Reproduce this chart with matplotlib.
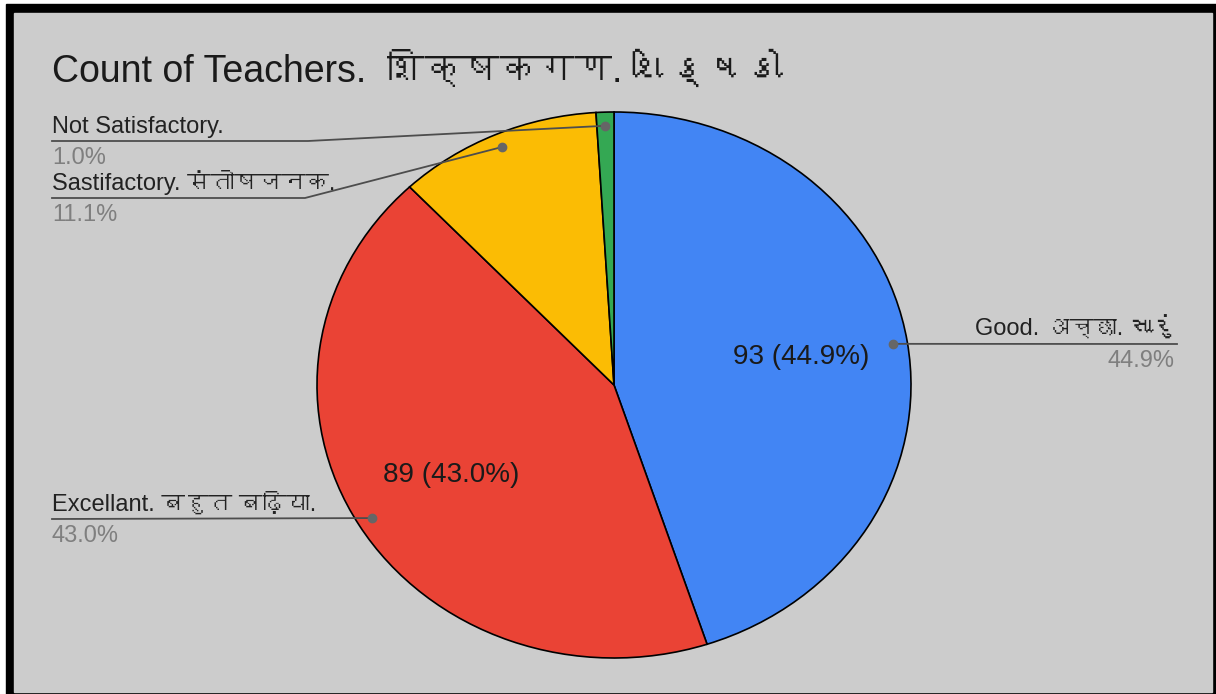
import numpy as np
import matplotlib.pyplot as plt
from matplotlib import font_manager
from matplotlib.ft2font import FT2Font

# Данные
title = 'Count of Teachers.  शिक्षकगण. શિક્ષકો'
categories = ['Good. अच्छा. સારું', 'Excellant. बहुत बढ़िया.',
              'Sastifactory. संतोषजनक.', 'Not Satisfactory.']
counts = [93, 89, 23, 2]
colors = ['#4285f4', '#ea4335', '#fbbc04', '#34a853']

# Шрифты: ищем что-нибудь с деванагари / гуджарати, если есть
families = ['Liberation Sans', 'DejaVu Sans']
for code in (0x0936, 0x0AB6):
    for f in font_manager.fontManager.ttflist:
        try:
            if code in FT2Font(f.fname).get_charmap():
                if f.name not in families:
                    families.append(f.name)
                break
        except Exception:
            pass
plt.rcParams['font.family'] = families

W, H = 1216, 694
fig = plt.figure(figsize=(W / 100, H / 100), dpi=100, facecolor='white')
ax = fig.add_axes([0, 0, 1, 1])
ax.set_xlim(0, W)
ax.set_ylim(H, 0)
ax.axis('off')

# рамка скриншота и серый фон
ax.add_patch(plt.Rectangle((6, 4), W - 6, H - 4, color='black'))
ax.add_patch(plt.Rectangle((14, 13), 1198, 679, color='#cccccc'))

ax.text(52, 82, title, fontsize=27, color='#1a1a1a', va='baseline')

# Круговая диаграмма (слегка растянута по горизонтали, как в оригинале)
cx, cy, rx, ry = 614, 385, 297, 273
pax = fig.add_axes([(cx - rx) / W, (H - cy - ry) / H, 2 * rx / W, 2 * ry / H])
wedges, _ = pax.pie(counts, colors=colors, startangle=90, counterclock=False,
                    wedgeprops=dict(edgecolor='black', linewidth=1.2))
for w in wedges:
    w.set_clip_on(False)
pax.set_xlim(-1, 1)
pax.set_ylim(-1, 1)
pax.set_aspect('auto')
pax.axis('off')

# верхний слой для выносок, поверх круга
ox = fig.add_axes([0, 0, 1, 1])
ox.set_xlim(0, W)
ox.set_ylim(H, 0)
ox.axis('off')

total = sum(counts)


def to_px(x, y):
    return ox.transData.inverted().transform(pax.transData.transform((x, y)))


# подписи: (x якоря, y подчёркивания, выравнивание, x излома)
layout = [(1177, 344, 'right', 1177),
          (52, 519, 'left', 52),
          (52, 198, 'left', 305),
          (52, 141, 'left', 308)]

for w, n, name, (tx, uy, ha, bx) in zip(wedges, counts, categories, layout):
    mid = np.deg2rad((w.theta1 + w.theta2) / 2)
    share = n / total
    if share > 0.2:
        pax.text(0.64 * np.cos(mid), 0.64 * np.sin(mid), f'{n} ({share:.1%})',
                 fontsize=20, color='#1a1a1a', ha='center', va='center')
    dx, dy = to_px(0.95 * np.cos(mid), 0.95 * np.sin(mid))
    ox.plot([tx, bx, dx], [uy, uy, dy], color='#4d4d4d', lw=1.3, zorder=3)
    ox.plot(dx, dy, 'o', ms=6, color='#666666', zorder=4)
    ox.text(tx, uy - 8, name, fontsize=17, color='#222222', ha=ha, va='baseline')
    ox.text(tx - (3 if ha == 'right' else 0), uy + 23, f'{share:.1%}',
            fontsize=17, color='#7f7f7f', ha=ha, va='baseline')

fig.savefig('out.png', dpi=100, facecolor=fig.get_facecolor())
